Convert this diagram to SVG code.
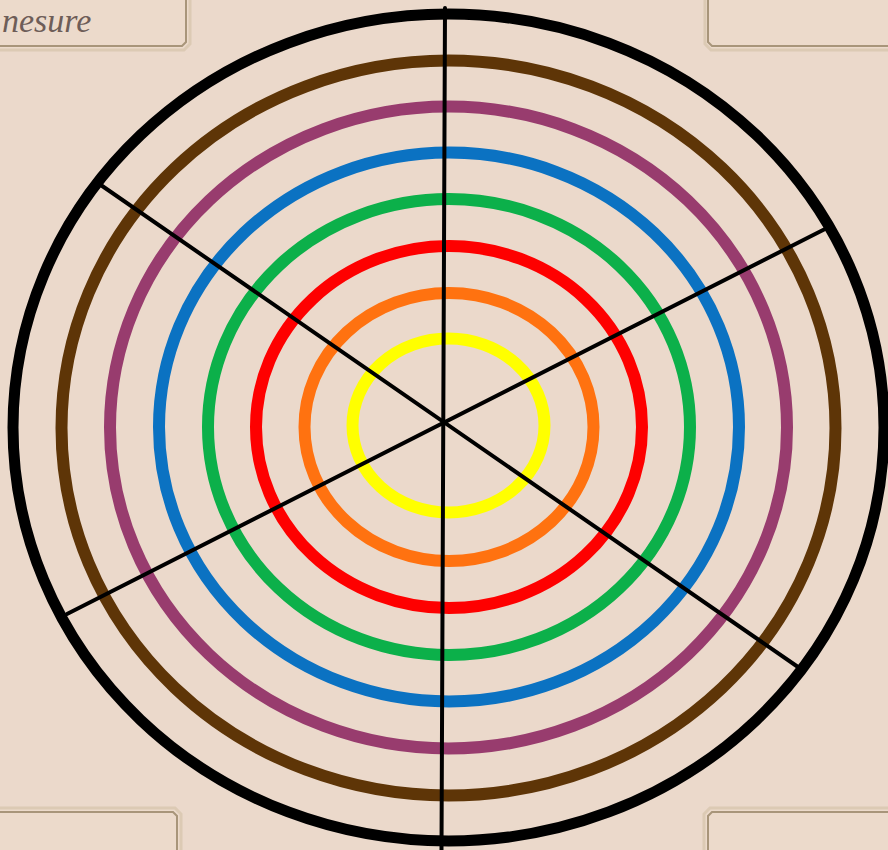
<svg xmlns="http://www.w3.org/2000/svg" width="888" height="850" viewBox="0 0 888 850">
<style>
.ring{fill:none;stroke-width:12}
.spoke{stroke:#000;stroke-width:4;stroke-linecap:round}
.boxo{fill:#ecdacb;stroke:#dccab4;stroke-width:3}
.boxi{fill:none;stroke:#a8957a;stroke-width:2}
.label{font-family:"Liberation Serif",serif;font-style:italic;font-size:34px;fill:#6e5d58}
</style>
<rect width="888" height="850" fill="#ebd9cb"/>
<g id="box-top-left">
<path class="boxo" d="M-5,-5 H190 V44 L184,50 H-5 Z"/>
<path class="boxi" d="M-5,-5 H186 V42 L182,46 H-5"/>
<text class="label" x="2" y="32">nesure</text>
</g>
<g id="box-top-right">
<path class="boxo" d="M893,-5 H705 V44 L711,50 H893 Z"/>
<path class="boxi" d="M893,-5 H708 V42 L712,46 H893"/>
</g>
<g id="box-bottom-left">
<path class="boxo" d="M-5,855 H181 V814 L175,808 H-5 Z"/>
<path class="boxi" d="M-5,855 H177 V816 L173,812 H-5"/>
</g>
<g id="box-bottom-right">
<path class="boxo" d="M893,855 H704 V814 L710,808 H893 Z"/>
<path class="boxi" d="M893,855 H708 V816 L712,812 H893"/>
</g>
<g id="rings">
<ellipse id="ring-black" cx="448.5" cy="427.5" rx="435.5" ry="413.5" fill="none" stroke="#000" stroke-width="11"/>
<ellipse id="ring-brown" class="ring" cx="448.5" cy="428" rx="387" ry="367.5" stroke="#5e3507"/>
<ellipse id="ring-purple" class="ring" cx="448.5" cy="427.5" rx="338.5" ry="321" stroke="#983c6e"/>
<ellipse id="ring-blue" class="ring" cx="449" cy="427" rx="290" ry="274.5" stroke="#0b72c2"/>
<ellipse id="ring-green" class="ring" cx="449" cy="427" rx="241" ry="228" stroke="#0cb04a"/>
<ellipse id="ring-red" class="ring" cx="449" cy="427" rx="193" ry="181" stroke="#fe0000"/>
<ellipse id="ring-orange" class="ring" cx="449" cy="427" rx="144.5" ry="134" stroke="#ff7210"/>
<ellipse id="ring-yellow" class="ring" cx="448.5" cy="425.5" rx="96" ry="87" stroke="#ffff00"/>
</g>
<g id="connectors">
<line class="spoke" x1="445" y1="8" x2="441.5" y2="850"/>
<line class="spoke" x1="95" y1="181" x2="798" y2="667"/>
<line class="spoke" x1="827" y1="228" x2="67" y2="614"/>
</g>
</svg>
